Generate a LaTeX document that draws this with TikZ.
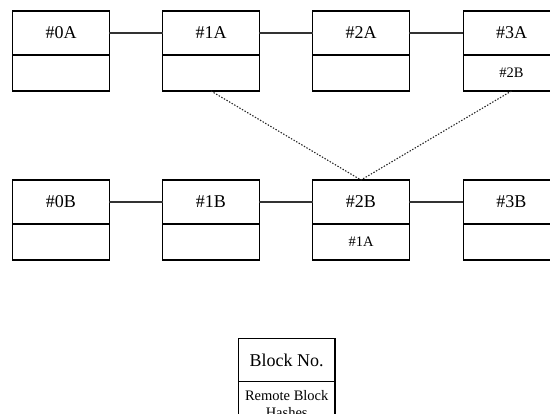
\documentclass[tikz,border=0pt]{standalone}
\usepackage{fontspec}
\setmainfont{Liberation Serif}
\begin{document}
\begin{tikzpicture}[x=1pt,y=-1pt,
  blockno/.style={draw=black, line width=1.3pt, minimum width=96.5pt, minimum height=44pt,
    inner sep=0pt, outer sep=0pt, anchor=north, font=\fontsize{18}{20}\selectfont},
  hashes/.style={draw=black, line width=1.3pt, minimum width=96.5pt, minimum height=36pt,
    inner sep=0pt, outer sep=0pt, anchor=north, font=\fontsize{14.5}{17.3}\selectfont},
  chain/.style={draw=black!80, line width=1.3pt},
  ref/.style={draw=black!85, line width=1.1pt, dash pattern=on 1.4pt off 1.6pt}]
\useasboundingbox (0,0) rectangle (550,414);
\clip (0,0) rectangle (550,414);

% chain A
\node[blockno] (a0) at (61,11) {\#0A};
\node[hashes]  (a0h) at (a0.south) {};
\node[blockno] (a1) at (211,11) {\#1A};
\node[hashes]  (a1h) at (a1.south) {};
\node[blockno] (a2) at (361,11) {\#2A};
\node[hashes]  (a2h) at (a2.south) {};
\node[blockno] (a3) at (511.5,11) {\#3A};
\node[hashes]  (a3h) at (a3.south) {\#2B};

% chain B
\node[blockno] (b0) at (61,180) {\#0B};
\node[hashes]  (b0h) at (b0.south) {};
\node[blockno] (b1) at (211,180) {\#1B};
\node[hashes]  (b1h) at (b1.south) {};
\node[blockno] (b2) at (361,180) {\#2B};
\node[hashes]  (b2h) at (b2.south) {\#1A};
\node[blockno] (b3) at (511.5,180) {\#3B};
\node[hashes]  (b3h) at (b3.south) {};

% links inside each chain
\draw[chain] (a0.east) -- (a1.west);
\draw[chain] (a1.east) -- (a2.west);
\draw[chain] (a2.east) -- (a3.west);
\draw[chain] (b0.east) -- (b1.west);
\draw[chain] (b1.east) -- (b2.west);
\draw[chain] (b2.east) -- (b3.west);

% cross-chain hash references
\draw[ref] (a1h.south) -- (b2.north);
\draw[ref] (a3h.south) -- (b2.north);

% legend
\node[blockno, minimum height=43.5pt] (key) at (286.7,338.3) {Block No.};
\node[hashes, minimum height=44pt, align=center] (keyh) at (key.south)
  {Remote Block\\Hashes};
\end{tikzpicture}
\end{document}
